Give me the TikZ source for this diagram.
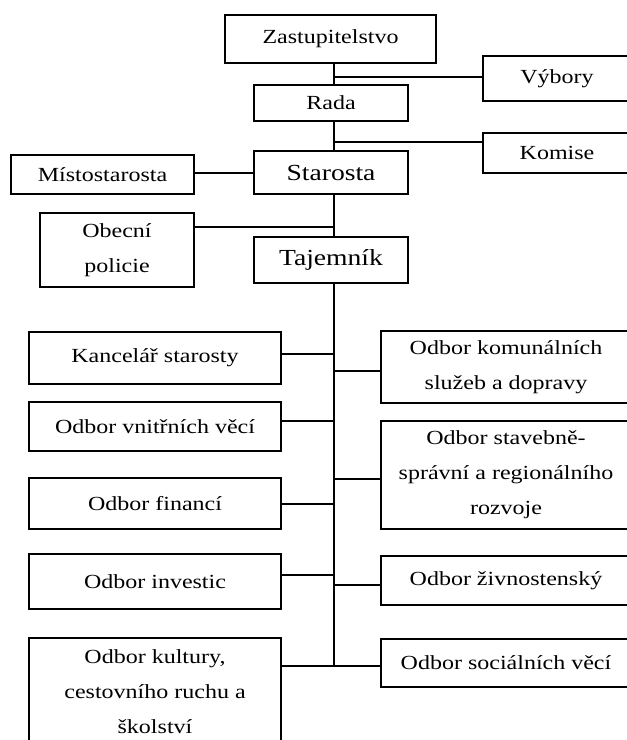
\documentclass[tikz,border=0pt]{standalone}
\usepackage{fontspec}
\setmainfont{Liberation Serif}[FakeStretch=1.2]
\begin{document}
\begin{tikzpicture}[x=1pt,y=-1pt,
  bx/.style={draw, line width=1.1pt, align=center, inner sep=0pt, font=\fontsize{20pt}{35pt}\selectfont},
  big/.style={bx, font=\fontsize{23pt}{26pt}\selectfont},
  ln/.style={line width=1.1pt}]
\clip (0,0) rectangle (627,740);
\coordinate (T) at (334,0);
% top part
\node[bx, minimum width=211pt, minimum height=48pt] (zast) at (330.5,39) {Zastupitelstvo};
\node[bx, minimum width=148pt, minimum height=45pt] (vybory) at (557,78.5) {Výbory};
\node[bx, minimum width=154pt, minimum height=36pt] (rada) at (331,103) {Rada};
\node[bx, minimum width=148pt, minimum height=40pt] (komise) at (557,153) {Komise};
\node[big, minimum width=154pt, minimum height=43pt] (starosta) at (331,172.5) {Starosta};
\node[bx, minimum width=183pt, minimum height=39pt] (misto) at (102.5,174.5) {Místostarosta};
\node[bx, minimum width=154pt, minimum height=74pt] (policie) at (117,250) {Obecní\\policie};
\node[big, minimum width=154pt, minimum height=46pt] (tajemnik) at (331,260) {Tajemník};
% departments left
\node[bx, minimum width=252pt, minimum height=52pt] (kancelar) at (155,358) {Kancelář starosty};
\node[bx, minimum width=252pt, minimum height=49pt] (vnitrni) at (155,426.5) {Odbor vnitřních věcí};
\node[bx, minimum width=252pt, minimum height=51pt] (financi) at (155,503.5) {Odbor financí};
\node[bx, minimum width=252pt, minimum height=55pt] (investic) at (155,581.5) {Odbor investic};
\node[bx, minimum width=252pt, minimum height=108pt] (kultury) at (155,692) {Odbor kultury,\\cestovního ruchu a\\školství};
% departments right
\node[bx, minimum width=250pt, minimum height=72pt] (komunal) at (506,367) {Odbor komunálních\\služeb a dopravy};
\node[bx, minimum width=250pt, minimum height=108pt] (stavebne) at (506,475) {Odbor stavebně-\\správní a regionálního\\rozvoje};
\node[bx, minimum width=250pt, minimum height=49pt] (zivnost) at (506,580.5) {Odbor živnostenský};
\node[bx, minimum width=250pt, minimum height=48pt] (socialni) at (506,663) {Odbor sociálních věcí};
% trunk
\coordinate (end) at (334,666);
\draw[ln] (zast.south -| T) -- (rada.north -| T);
\draw[ln] (rada.south -| T) -- (starosta.north -| T);
\draw[ln] (starosta.south -| T) -- (tajemnik.north -| T);
\draw[ln] (tajemnik.south -| T) -- (end);
% side connectors
\draw[ln] ([yshift=1.5pt]vybory.west) -- ([yshift=1.5pt]vybory.west -| T);
\draw[ln] ([yshift=11pt]komise.west) -- ([yshift=11pt]komise.west -| T);
\draw[ln] ([yshift=1.5pt]misto.east) -- ([yshift=1.5pt]misto.east -| starosta.west);
\draw[ln] ([yshift=23pt]policie.east) -- ([yshift=23pt]policie.east -| T);
\draw[ln] ([yshift=4pt]kancelar.east) -- ([yshift=4pt]kancelar.east -| T);
\draw[ln] ([yshift=-4pt]komunal.west) -- ([yshift=-4pt]komunal.west -| T);
\draw[ln] ([yshift=5.5pt]vnitrni.east) -- ([yshift=5.5pt]vnitrni.east -| T);
\draw[ln] ([yshift=-4pt]stavebne.west) -- ([yshift=-4pt]stavebne.west -| T);
\draw[ln] ([yshift=-0.5pt]financi.east) -- ([yshift=-0.5pt]financi.east -| T);
\draw[ln] ([yshift=6.5pt]investic.east) -- ([yshift=6.5pt]investic.east -| T);
\draw[ln] ([yshift=-4.5pt]zivnost.west) -- ([yshift=-4.5pt]zivnost.west -| T);
\draw[ln] (kultury.east |- end) -- (end);
\draw[ln] (socialni.west |- end) -- (end);
\end{tikzpicture}
\end{document}
